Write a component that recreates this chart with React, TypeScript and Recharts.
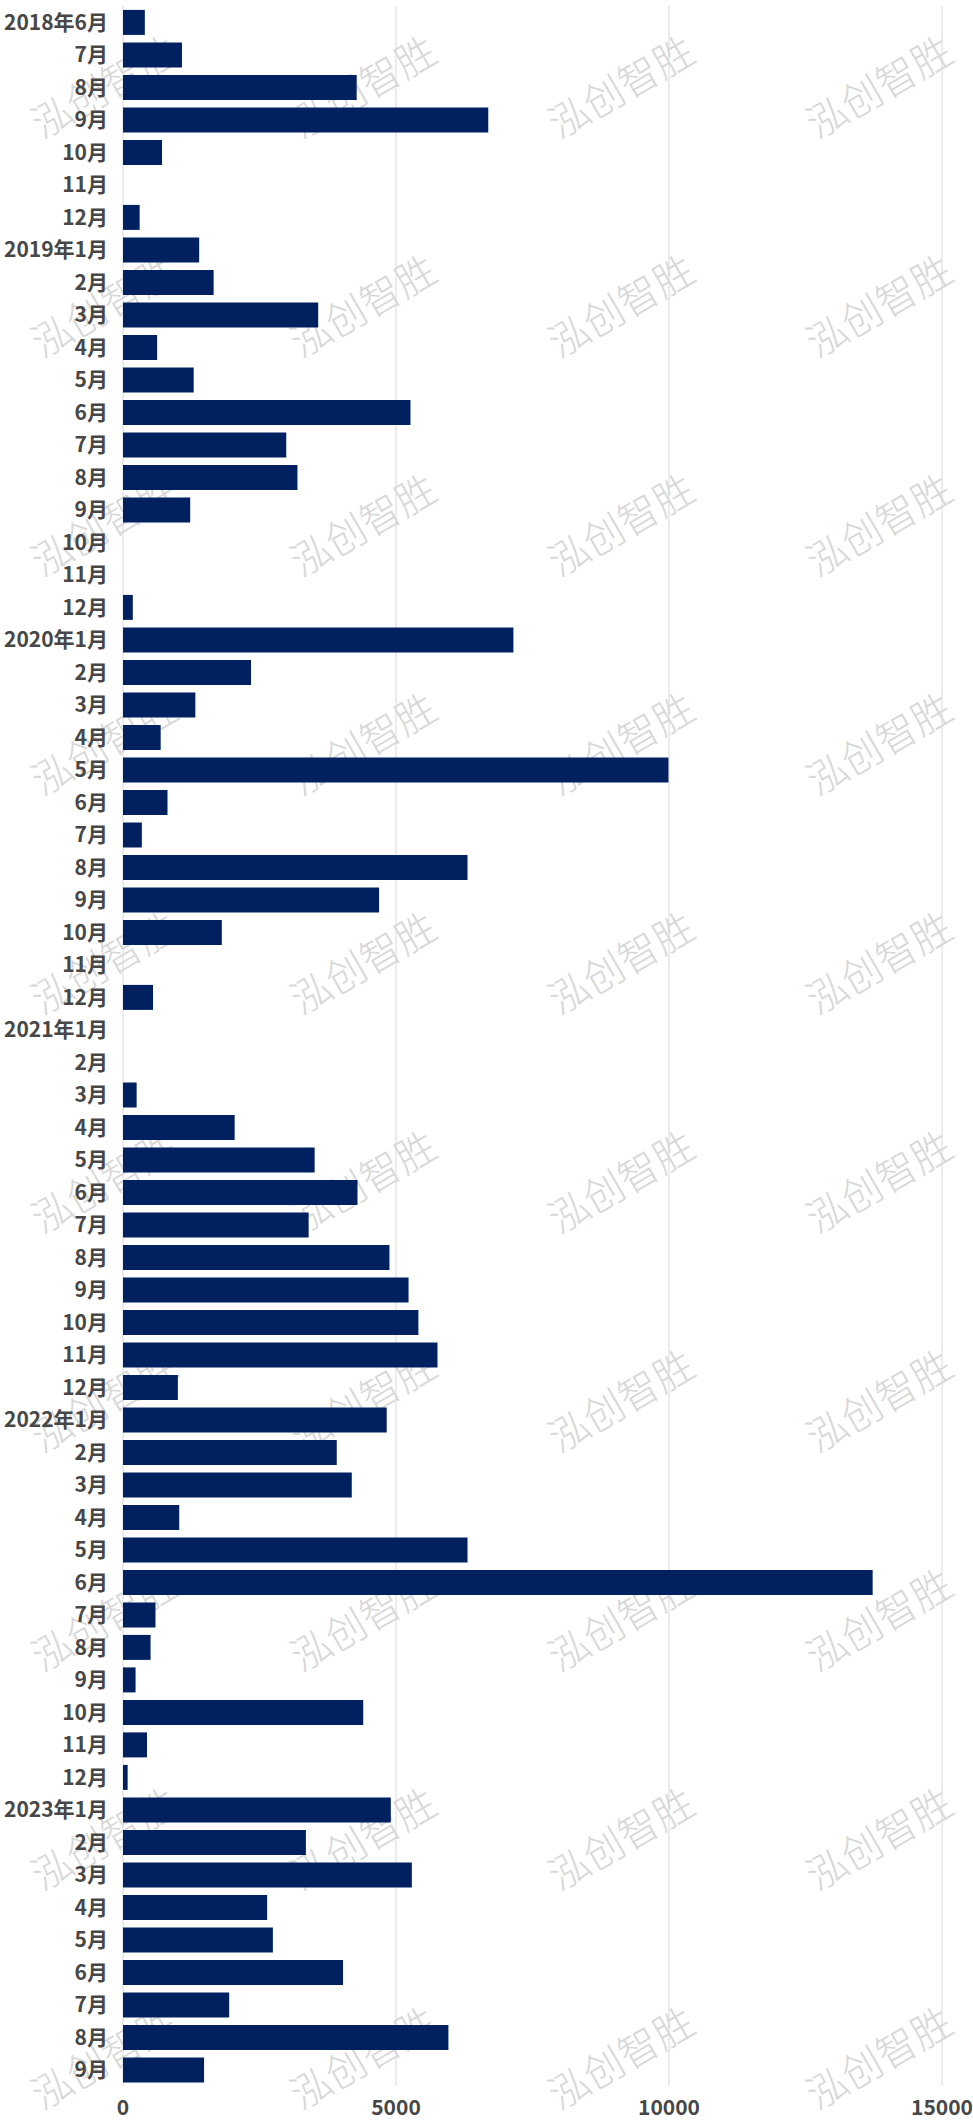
import React from 'react';
import { BarChart, Bar, XAxis, YAxis, CartesianGrid } from 'recharts';

const categories = [
  '2018年6月', '7月', '8月', '9月', '10月', '11月', '12月',
  '2019年1月', '2月', '3月', '4月', '5月', '6月', '7月', '8月', '9月', '10月', '11月', '12月',
  '2020年1月', '2月', '3月', '4月', '5月', '6月', '7月', '8月', '9月', '10月', '11月', '12月',
  '2021年1月', '2月', '3月', '4月', '5月', '6月', '7月', '8月', '9月', '10月', '11月', '12月',
  '2022年1月', '2月', '3月', '4月', '5月', '6月', '7月', '8月', '9月', '10月', '11月', '12月',
  '2023年1月', '2月', '3月', '4月', '5月', '6月', '7月', '8月', '9月',
];

const values2018 = [400, 1080, 4280, 6690, 715, 0, 305];
const values2019 = [1395, 1660, 3575, 625, 1295, 5265, 2990, 3195, 1230, 0, 0, 180];
const values2020 = [7150, 2345, 1325, 690, 9990, 815, 345, 6310, 4690, 1810, 0, 550];
const values2021 = [0, 0, 250, 2045, 3510, 4295, 3400, 4880, 5230, 5410, 5760, 1005];
const values2022 = [4830, 3915, 4190, 1030, 6310, 13730, 595, 505, 230, 4400, 440, 85];
const values2023 = [4905, 3350, 5290, 2640, 2745, 4030, 1945, 5960, 1485];

const values = [
  ...values2018, ...values2019, ...values2020,
  ...values2021, ...values2022, ...values2023,
];

const xTicks = [0, 5000, 10000, 15000];
const watermarkText = '泓创智胜';

const data = categories.map((name, i) => ({ name, value: values[i] }));

const W = 973;
const H = 2126;

const tickStyle = {
  fontFamily: '"Noto Sans CJK SC", "Noto Sans", sans-serif',
  fontSize: 21,
  fontWeight: 700,
  fill: '#474747',
};

export default function App() {
  const rows: number[] = [];
  for (let r = 0; r < 10; r++) rows.push(85 + 219 * r);
  const cols = [103, 362, 620, 878];
  return (
    <div style={{ position: 'absolute', left: 0, top: 0, width: W, height: H, background: '#ffffff' }}>
      <svg width={W} height={H} style={{ position: 'absolute', left: 0, top: 0 }}>
        {rows.flatMap((y) =>
          cols.map((x) => (
            <text
              key={`${x}-${y}`}
              x={x}
              y={y}
              transform={`rotate(-30 ${x} ${y})`}
              textAnchor="middle"
              dominantBaseline="central"
              fontSize={40}
              fontWeight={300}
              fill="#d8d8d8"
              fontFamily='"Noto Sans CJK SC", sans-serif'
            >
              {watermarkText}
            </text>
          ))
        )}
      </svg>
      <div style={{ position: 'absolute', left: 0, top: 0 }}>
        <BarChart
          width={W}
          height={H}
          data={data}
          layout="vertical"
          margin={{ top: 6, right: 31, left: 0, bottom: 0 }}
          barCategoryGap="12%"
        >
          <CartesianGrid horizontal={false} stroke="#d9d9d9" />
          <XAxis
            type="number"
            domain={[0, 15000]}
            ticks={xTicks}
            interval={0}
            axisLine={false}
            tickLine={false}
            height={40}
            tickMargin={8}
            tick={tickStyle}
          />
          <YAxis
            type="category"
            dataKey="name"
            width={123}
            interval={0}
            axisLine={false}
            tickLine={false}
            tickMargin={9}
            tick={tickStyle}
          />
          <Bar dataKey="value" fill="#002060" isAnimationActive={false} />
        </BarChart>
      </div>
    </div>
  );
}
